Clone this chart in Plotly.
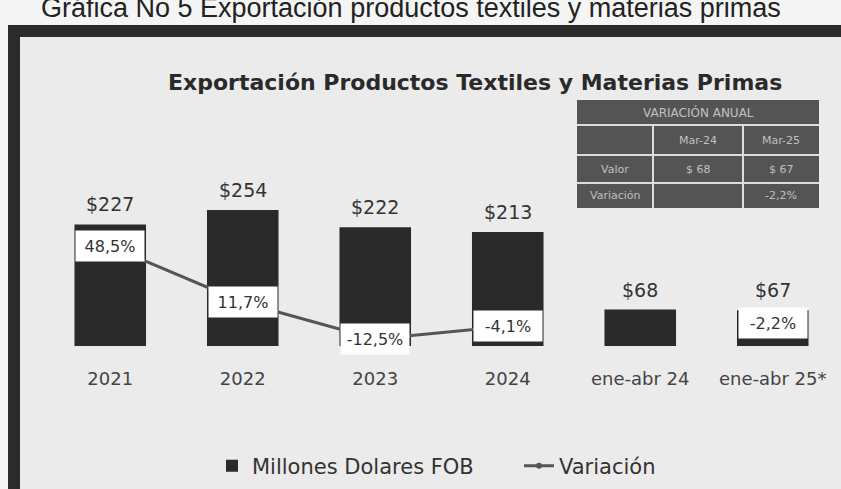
import plotly.graph_objects as go

# ---- data ----
categories = ["2021", "2022", "2023", "2024", "ene-abr 24", "ene-abr 25*"]
values_fob = [227, 254, 222, 213, 68, 67]
variation = [48.5, 11.7, -12.5, -4.1, None, -2.2]

page_title = "Gráfica No 5 Exportación productos textiles y materias primas"
chart_title = "Exportación Productos Textiles y Materias Primas"

table_header = "VARIACIÓN ANUAL"
table_cols = ["", "Mar-24", "Mar-25"]
table_rows = [["Valor", "$ 68", "$ 67"], ["Variación", "", "-2,2%"]]

W, H = 841, 489
FONT = "DejaVu Sans"
BAR_COLOR = "#2a2a2a"
LINE_COLOR = "#555555"


def px(x):
    return x / W


def py(y):
    return 1 - y / H


def fmt_pct(v):
    return ("%.1f" % v).replace(".", ",") + "%"


fig = go.Figure()

fig.add_trace(go.Bar(
    x=categories, y=values_fob, name="Millones Dolares FOB",
    marker=dict(color=BAR_COLOR, line=dict(width=0)),
    yaxis="y",
))
fig.add_trace(go.Scatter(
    x=categories, y=variation, name="Variación",
    mode="lines+markers",
    line=dict(color=LINE_COLOR, width=3),
    marker=dict(color=LINE_COLOR, size=6),
    connectgaps=False,
    yaxis="y2",
))

annotations = []
# bar value labels (x given as category index)
for i, v in enumerate(values_fob):
    annotations.append(dict(
        x=i, y=v, xref="x", yref="y", text="$%d" % v, showarrow=False,
        xanchor="center", yanchor="bottom", yshift=7,
        font=dict(family=FONT, size=19, color="#333333"),
    ))
# variation labels in white boxes
for i, v in enumerate(variation):
    if v is None:
        continue
    annotations.append(dict(
        x=i, y=v, xref="x", yref="y2", text=fmt_pct(v), showarrow=False,
        xanchor="center", yanchor="middle",
        bgcolor="white", width=64, height=26, borderpad=2,
        font=dict(family=FONT, size=16, color="#333333"),
    ))

# page header (partially cut at top in the scan)
annotations.append(dict(
    x=px(411), y=py(8), xref="paper", yref="paper", text=page_title,
    showarrow=False, xanchor="center", yanchor="middle",
    font=dict(family="Liberation Sans", size=27, color="#222222"),
))
# chart title
annotations.append(dict(
    x=px(475), y=py(82), xref="paper", yref="paper", text="<b>%s</b>" % chart_title,
    showarrow=False, xanchor="center", yanchor="middle",
    font=dict(family=FONT, size=22, color="#2a2a2a"),
))

shapes = []
# frame
shapes.append(dict(type="rect", xref="paper", yref="paper",
                   x0=px(8), x1=px(860), y0=py(520), y1=py(25),
                   fillcolor="#2b2b2b", line=dict(width=0), layer="below"))
shapes.append(dict(type="rect", xref="paper", yref="paper",
                   x0=px(20), x1=px(860), y0=py(520), y1=py(37),
                   fillcolor="#ebebeb", line=dict(width=0), layer="below"))

# table
tx = [577, 653, 743, 819]
ty = [100, 125, 155, 183, 208]
shapes.append(dict(type="rect", xref="paper", yref="paper",
                   x0=px(tx[0]), x1=px(tx[-1]), y0=py(ty[-1]), y1=py(ty[0]),
                   fillcolor="#545454", line=dict(width=0)))
for yy in ty[1:-1]:
    shapes.append(dict(type="line", xref="paper", yref="paper",
                       x0=px(tx[0]), x1=px(tx[-1]), y0=py(yy), y1=py(yy),
                       line=dict(color="#dcdcdc", width=2)))
for xx in tx[1:-1]:
    shapes.append(dict(type="line", xref="paper", yref="paper",
                       x0=px(xx), x1=px(xx), y0=py(ty[-1]), y1=py(ty[1]),
                       line=dict(color="#dcdcdc", width=2)))
annotations.append(dict(
    x=px((tx[0] + tx[-1]) / 2), y=py((ty[0] + ty[1]) / 2), xref="paper", yref="paper",
    text=table_header, showarrow=False, xanchor="center", yanchor="middle",
    font=dict(family=FONT, size=12, color="#c0c0c0")))
all_rows = [table_cols] + table_rows
for r, row in enumerate(all_rows):
    for ci, cell in enumerate(row):
        if not cell:
            continue
        annotations.append(dict(
            x=px((tx[ci] + tx[ci + 1]) / 2), y=py((ty[r + 1] + ty[r + 2]) / 2),
            xref="paper", yref="paper", text=cell, showarrow=False,
            xanchor="center", yanchor="middle",
            font=dict(family=FONT, size=11, color="#c0c0c0")))

fig.update_layout(
    width=W, height=H,
    margin=dict(l=0, r=0, t=0, b=0, autoexpand=False),
    paper_bgcolor="#f5f5f5",
    plot_bgcolor="rgba(0,0,0,0)",
    bargap=0.46,
    showlegend=True,
    legend=dict(orientation="h", x=px(212), y=py(466), xanchor="left", yanchor="middle",
                font=dict(family=FONT, size=21, color="#333333"),
                entrywidth=262, entrywidthmode="pixels",
                bgcolor="rgba(0,0,0,0)"),
    xaxis=dict(domain=[px(44), px(839)], type="category", range=[-0.5, 5.5],
               showgrid=False, showline=False,
               zeroline=False, ticks="", ticklabelstandoff=20,
               tickfont=dict(family=FONT, size=18, color="#444444")),
    yaxis=dict(domain=[py(346), py(126)], range=[0, 411], visible=False, showgrid=False),
    yaxis2=dict(domain=[py(346), py(126)], range=[-17.1, 127.6], overlaying="y",
                visible=False, showgrid=False),
    annotations=annotations,
    shapes=shapes,
)

fig.write_html("out.html", config={"displayModeBar": False},
               post_script="document.body.style.margin='0';document.body.style.overflow='hidden';")
